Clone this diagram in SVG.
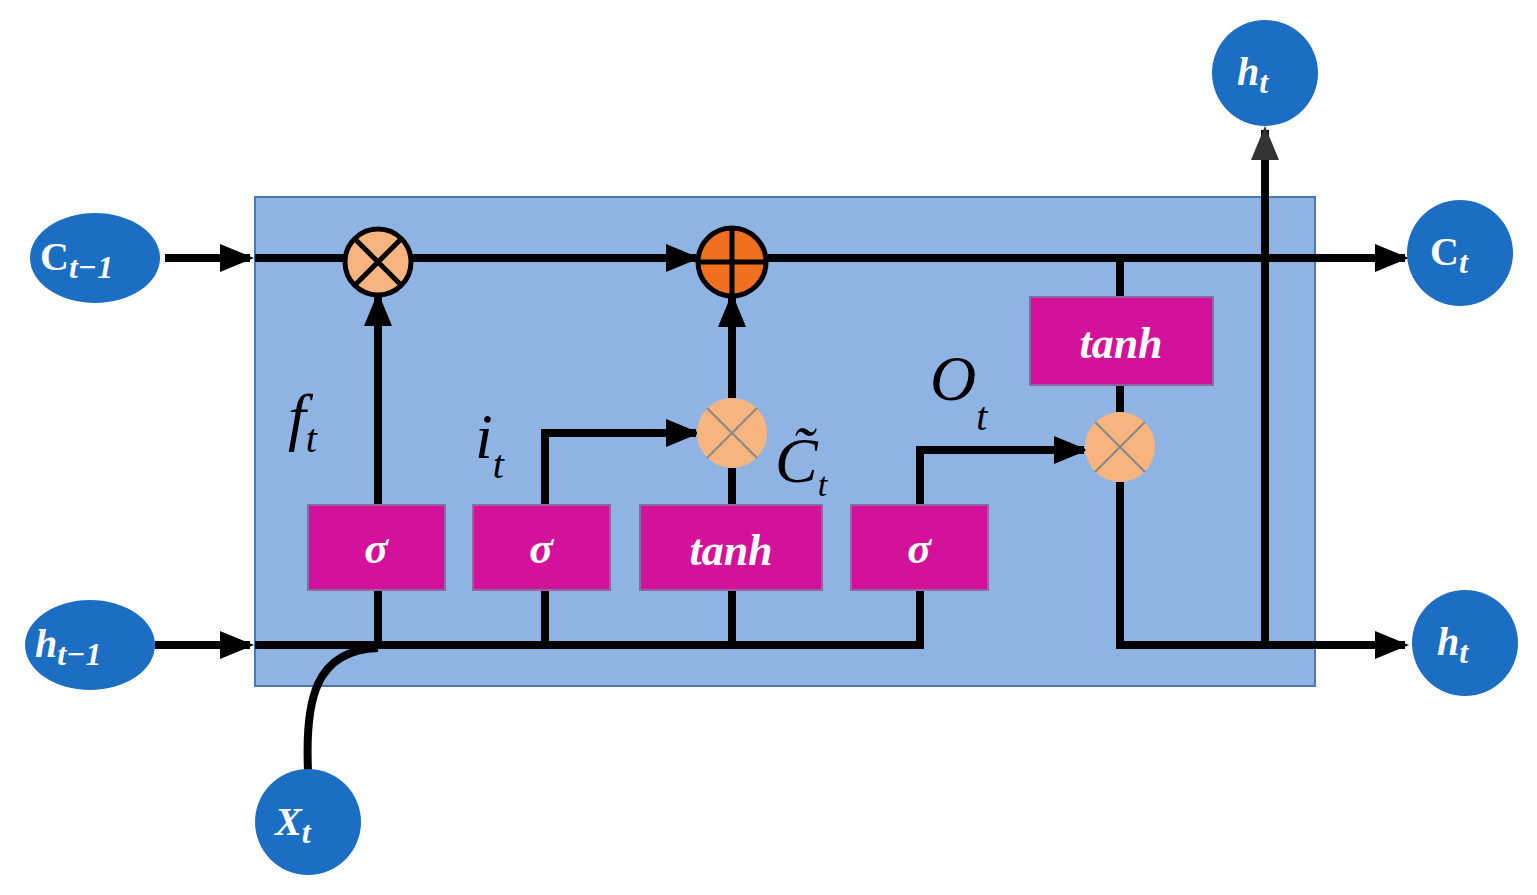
<svg xmlns="http://www.w3.org/2000/svg" width="1537" height="895" viewBox="0 0 1537 895">
<defs>
<marker id="ar" markerWidth="10" markerHeight="10" refX="8" refY="5" orient="auto" markerUnits="userSpaceOnUse" viewBox="0 0 10 10"><path d="M0,0 L10,5 L0,10 z" fill="#000"/></marker>
<marker id="arb" markerWidth="34" markerHeight="28" refX="30" refY="14" orient="auto" markerUnits="userSpaceOnUse"><path d="M0,0 L34,14 L0,28 z" fill="#000"/></marker>
<marker id="arg" markerWidth="34" markerHeight="28" refX="30" refY="14" orient="auto" markerUnits="userSpaceOnUse"><path d="M0,0 L34,14 L0,28 z" fill="#333"/></marker>
</defs>
<style>
.ln{fill:none;stroke:#000;stroke-width:8}
.bx{fill:#d4119b;stroke:#8a6aa0;stroke-width:2}
.bt{font-family:"Liberation Serif",serif;font-weight:bold;font-style:italic;fill:#fff;font-size:44px;text-anchor:middle}
.nd{fill:#1b6ec2}
.nt{font-family:"Liberation Serif",serif;font-weight:bold;fill:#fff;font-size:40px}
.lb{font-family:"Liberation Serif",serif;font-style:italic;fill:#000;font-size:64px}
.op{fill:#f8b47f}
</style>
<rect x="255" y="197" width="1060" height="489" fill="#8fb3e2" stroke="#4a78b5" stroke-width="2"/>
<g id="connectors">
<path class="ln" d="M165,258 H250" marker-end="url(#arb)"/>
<path class="ln" d="M255,258 H696" marker-end="url(#arb)"/>
<path class="ln" d="M768,258 H1405" marker-end="url(#arb)"/>
<path class="ln" d="M155,645 H250" marker-end="url(#arb)"/>
<path class="ln" d="M255,645 H920 V590"/>
<path class="ln" d="M378,645 V590 M378,505 V296" marker-end="url(#arb)"/>
<path class="ln" d="M545,645 V590 M545,505 V433 H696" marker-end="url(#arb)"/>
<path class="ln" d="M732,645 V590 M732,505 V468 M732,398 V297" marker-end="url(#arb)"/>
<path class="ln" d="M920,505 V450 H1084" marker-end="url(#arb)"/>
<path class="ln" d="M1120,258 V297 M1120,385 V412 M1120,482 V645 H1405" marker-end="url(#arb)"/>
<path d="M1265,645 V130" fill="none" stroke="#000" stroke-width="8" marker-end="url(#arg)"/>
<path class="ln" d="M308,770 C305,700 315,650 378,648"/>
</g>
<g id="ops">
<circle class="op" cx="378" cy="262" r="33" stroke="#000" stroke-width="5"/>
<path d="M355,239 L401,285 M401,239 L355,285" stroke="#000" stroke-width="5"/>
<circle cx="732" cy="262" r="34" fill="#f07020" stroke="#000" stroke-width="5"/>
<path d="M732,228 V296 M698,262 H766" stroke="#000" stroke-width="5"/>
<circle class="op" cx="732" cy="433" r="35"/>
<path d="M707,408 L757,458 M757,408 L707,458" stroke="#888" stroke-width="2"/>
<circle class="op" cx="1120" cy="447" r="35"/>
<path d="M1095,422 L1145,472 M1145,422 L1095,472" stroke="#888" stroke-width="2"/>
</g>
<g id="gates">
<rect class="bx" x="308" y="505" width="137" height="85"/><text class="bt" x="376" y="563">σ</text>
<rect class="bx" x="473" y="505" width="137" height="85"/><text class="bt" x="541" y="563">σ</text>
<rect class="bx" x="640" y="505" width="182" height="85"/><text class="bt" x="731" y="565">tanh</text>
<rect class="bx" x="851" y="505" width="137" height="85"/><text class="bt" x="919" y="563">σ</text>
<rect class="bx" x="1030" y="297" width="183" height="88"/><text class="bt" x="1121" y="358">tanh</text>
</g>
<g id="labels">
<text class="lb" x="288" y="438">f<tspan font-size="40" dy="14">t</tspan></text>
<text class="lb" x="475" y="458">i<tspan font-size="40" dy="20">t</tspan></text>
<text class="lb" x="775" y="482" font-style="normal" font-size="52">C̃<tspan font-size="34" dy="14" font-style="italic">t</tspan></text>
<text class="lb" x="930" y="400">O<tspan font-size="40" dy="30">t</tspan></text>
</g>
<g id="nodes">
<g id="ct1"><ellipse class="nd" cx="95" cy="258" rx="65" ry="45"/><text class="nt" x="40" y="270">C<tspan font-style="italic" font-size="32" dy="8">t−1</tspan></text></g>
<g id="ht1"><ellipse class="nd" cx="90" cy="645" rx="65" ry="45"/><text class="nt" x="35" y="657" font-style="italic">h<tspan font-size="32" dy="8">t−1</tspan></text></g>
<g id="xt"><circle class="nd" cx="308" cy="822" r="53"/><text class="nt" x="275" y="835" font-style="italic">X<tspan font-size="32" dy="8">t</tspan></text></g>
<g id="htop"><circle class="nd" cx="1265" cy="73" r="53"/><text class="nt" x="1237" y="85" font-style="italic">h<tspan font-size="32" dy="8">t</tspan></text></g>
<g id="ct"><circle class="nd" cx="1460" cy="253" r="53"/><text class="nt" x="1430" y="265">C<tspan font-style="italic" font-size="32" dy="8">t</tspan></text></g>
<g id="hr"><circle class="nd" cx="1465" cy="643" r="53"/><text class="nt" x="1437" y="655" font-style="italic">h<tspan font-size="32" dy="8">t</tspan></text></g>
</g>
</svg>
